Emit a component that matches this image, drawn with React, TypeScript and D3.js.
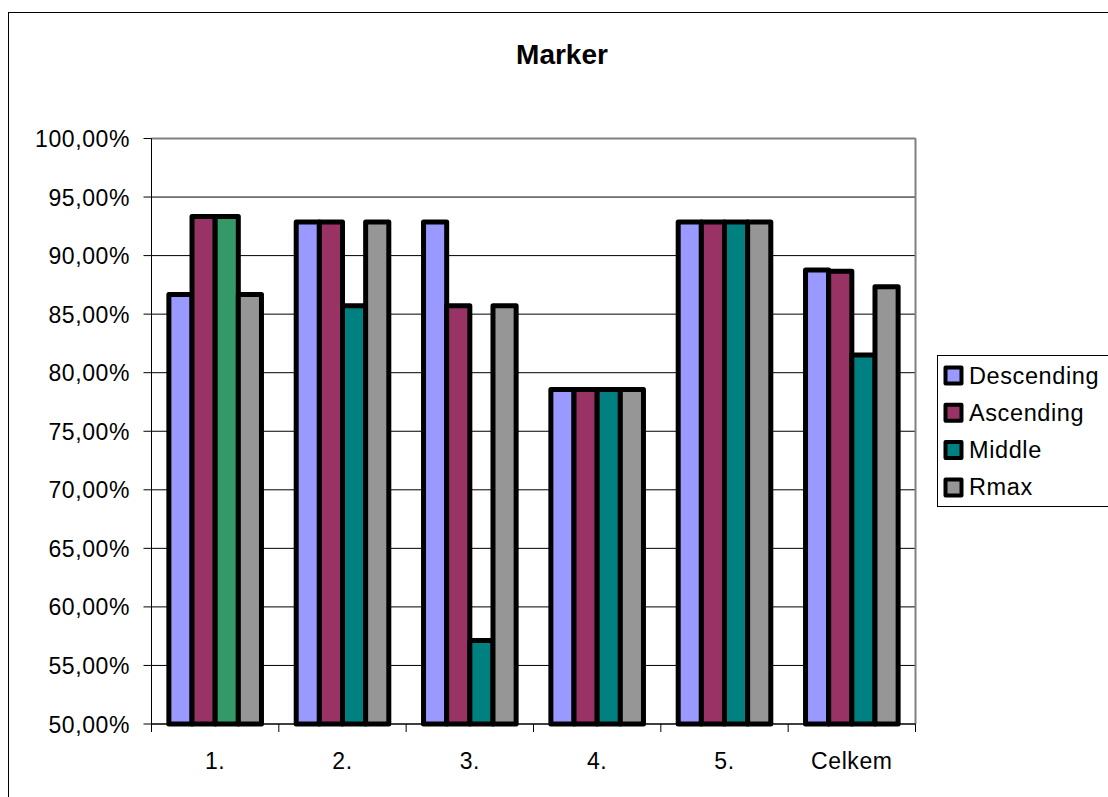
import React from "react";
import * as d3 from "d3";

// Categories and series
const categories = ["1.", "2.", "3.", "4.", "5.", "Celkem"];
const seriesNames = ["Descending", "Ascending", "Middle", "Rmax"];
const seriesColors = ["#9999FF", "#993366", "#008080", "#969696"];

// Success rate per category, in percent
const descending = [86.67, 92.86, 92.86, 78.57, 92.86, 88.76];
const ascending = [93.33, 92.86, 85.71, 78.57, 92.86, 88.67];
const middle = [93.33, 85.71, 57.14, 78.57, 92.86, 81.52];
const rmax = [86.67, 92.86, 85.71, 78.57, 92.86, 87.33];
const seriesValues = [descending, ascending, middle, rmax];

// One point drawn in a different colour: Middle in category "1."
const pointOverrides = [{ series: "Middle", category: "1.", color: "#339966" }];

const yTicks = [50, 55, 60, 65, 70, 75, 80, 85, 90, 95, 100];
const fmt = (v: number) => v.toFixed(2).replace(".", ",") + "%";

const W = 1108;
const H = 797;
const FONT = "Arial, 'Liberation Sans', sans-serif";

export default function App() {
  const plot = { left: 151.5, top: 138.5, right: 915.5, bottom: 724 };

  const x = d3
    .scaleBand<string>()
    .domain(categories)
    .range([plot.left, plot.right])
    .padding(0);

  const xs = d3
    .scaleBand<string>()
    .domain(seriesNames)
    .range([0, x.bandwidth()])
    .paddingInner(0)
    .paddingOuter(0.75);

  const y = d3.scaleLinear().domain([50, 100]).range([plot.bottom, plot.top]);

  const colorFor = (si: number, ci: number) => {
    const o = pointOverrides.find(
      (p) => p.series === seriesNames[si] && p.category === categories[ci]
    );
    return o ? o.color : seriesColors[si];
  };

  const legend = { x: 937.5, y: 355.5, w: 180, h: 151, rowH: 37.3 };

  return (
    <svg
      width={W}
      height={H}
      style={{ position: "absolute", left: 0, top: 0, background: "#fff" }}
      fontFamily={FONT}
    >
      <rect x={0} y={0} width={W} height={H} fill="#fff" />
      {/* chart area border */}
      <rect x={8.5} y={12.5} width={W + 20} height={H + 20} fill="none" stroke="#000" strokeWidth={1} />

      {/* title */}
      <text x={562} y={63.5} textAnchor="middle" fontSize={28} fontWeight="bold" fill="#000">
        Marker
      </text>

      {/* gridlines */}
      {yTicks.map((t) => (
        <line key={"g" + t} x1={plot.left} x2={plot.right} y1={y(t)} y2={y(t)} stroke="#000" strokeWidth={1} />
      ))}
      {/* plot area border (top and right) */}
      <line x1={plot.right} x2={plot.right} y1={plot.top} y2={plot.bottom} stroke="#808080" strokeWidth={2} />
      <line x1={plot.left} x2={plot.right} y1={plot.top} y2={plot.top} stroke="#808080" strokeWidth={2} />

      {/* bars */}
      {categories.map((c, ci) => (
        <g key={c} transform={`translate(${x(c)},0)`}>
          {seriesNames.map((s, si) => {
            const v = seriesValues[si][ci];
            return (
              <rect
                key={s}
                x={xs(s)}
                y={y(v)}
                width={xs.bandwidth()}
                height={y(50) - y(v)}
                fill={colorFor(si, ci)}
                stroke="#000"
                strokeWidth={5}
                strokeLinejoin="round"
              />
            );
          })}
        </g>
      ))}

      {/* y axis */}
      <line x1={plot.left} x2={plot.left} y1={plot.top} y2={plot.bottom} stroke="#000" strokeWidth={1} />
      {yTicks.map((t) => (
        <g key={"yt" + t}>
          <line x1={plot.left - 8} x2={plot.left} y1={y(t)} y2={y(t)} stroke="#000" strokeWidth={1} />
          <text x={130} y={y(t) + 8.5} textAnchor="end" fontSize={23} letterSpacing={0.6} fill="#000">
            {fmt(t)}
          </text>
        </g>
      ))}

      {/* x axis */}
      <line x1={plot.left} x2={plot.right} y1={plot.bottom} y2={plot.bottom} stroke="#000" strokeWidth={1} />
      {[...categories.map((c) => x(c) as number), plot.right].map((px, i) => (
        <line key={"xt" + i} x1={px} x2={px} y1={plot.bottom} y2={plot.bottom + 8} stroke="#000" strokeWidth={1} />
      ))}
      {categories.map((c) => (
        <text
          key={"xl" + c}
          x={(x(c) as number) + x.bandwidth() / 2}
          y={768.5}
          textAnchor="middle"
          fontSize={23}
          letterSpacing={0.6}
          fill="#000"
        >
          {c}
        </text>
      ))}

      {/* legend */}
      <rect x={legend.x} y={legend.y} width={legend.w} height={legend.h} fill="#fff" stroke="#000" strokeWidth={1} />
      {seriesNames.map((s, si) => {
        const cy = 375.5 + si * legend.rowH;
        return (
          <g key={"lg" + s}>
            <rect x={945.5} y={cy - 8} width={16} height={16} fill={seriesColors[si]} stroke="#000" strokeWidth={4} strokeLinejoin="round" />
            <text x={969} y={cy + 8} fontSize={23.5} letterSpacing={0.6} fill="#000">
              {s}
            </text>
          </g>
        );
      })}
    </svg>
  );
}
